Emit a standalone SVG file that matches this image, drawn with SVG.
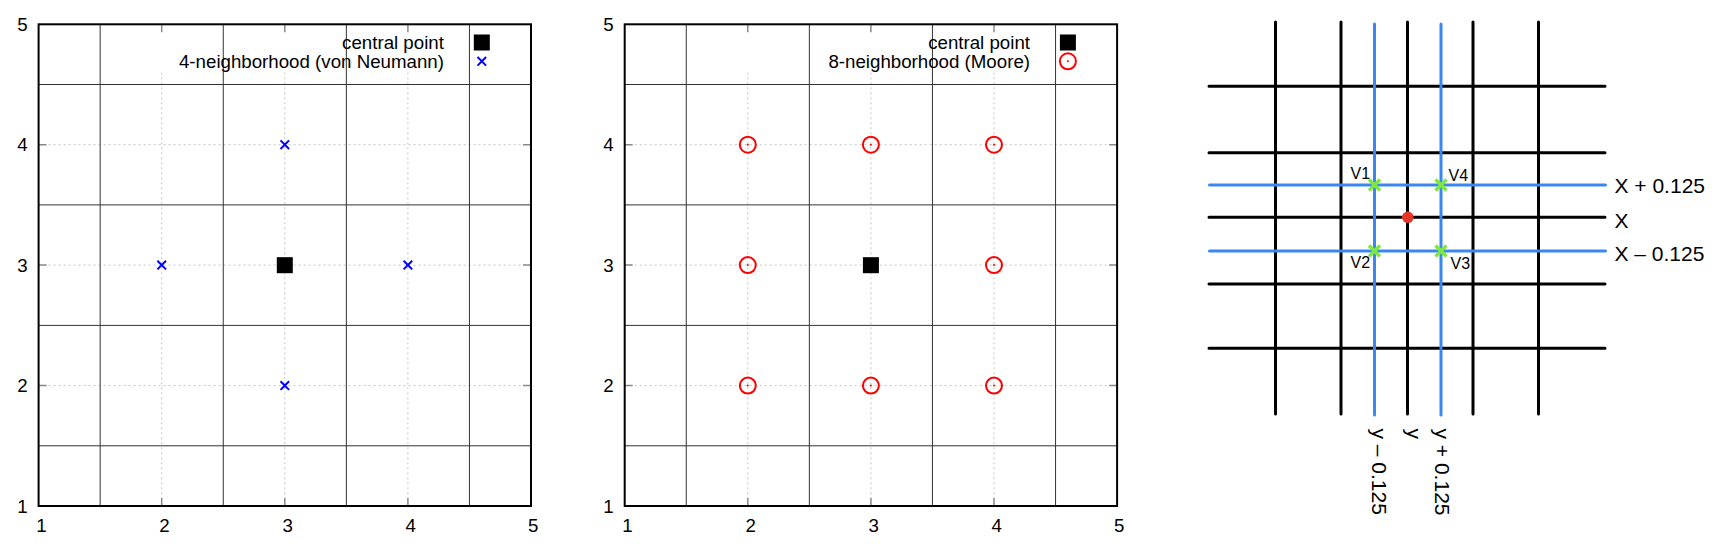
<svg xmlns="http://www.w3.org/2000/svg" xmlns:xlink="http://www.w3.org/1999/xlink" width="1730" height="549" viewBox="0 0 1730 549">
<style>
.frame{fill:none;stroke:#000;stroke-width:2}
.grid{stroke:#333;stroke-width:1;fill:none}
.dot{stroke:#c4c4c4;stroke-width:1;stroke-dasharray:2,3;fill:none}
.tick{stroke:#8a8a8a;stroke-width:1.5;fill:none}
.lbl{font-family:"Liberation Sans",Arial,Helvetica,sans-serif;font-size:18.7px;fill:#000}
.sm{font-family:"Liberation Sans",Arial,Helvetica,sans-serif;font-size:16px;fill:#000}
.big{font-family:"Liberation Sans",Arial,Helvetica,sans-serif;font-size:21px;fill:#000}
.blk{stroke:#000;stroke-width:3;stroke-linecap:round;fill:none}
.blu{stroke:#3b87f2;stroke-width:3;stroke-linecap:round;fill:none}
</style>
<defs>
<g id="bx"><path d="M-4.3,-4.3L4.3,4.3M-4.3,4.3L4.3,-4.3" stroke="#0000ff" stroke-width="2" fill="none"/></g>
<g id="rc"><circle r="8" fill="none" stroke="#ff0000" stroke-width="2"/><circle r="1" fill="#ff0000"/></g>
<g id="sq"><rect x="-8" y="-8" width="16" height="16" fill="#000"/></g>
<g id="gx"><path d="M-5.5,-5.5L5.5,5.5M-5.5,5.5L5.5,-5.5" stroke="#7fe840" stroke-width="3.5" fill="none"/></g>
<g id="axes">
<rect x="0" y="0" width="492.4" height="481.7" fill="#fff"/>
<path class="dot" d="M123.1,48V481.7M246.2,48V481.7M369.3,48V481.7M0,120.4H492.4M0,240.8H492.4M0,361.3H492.4"/>
<rect x="112" y="3" width="376" height="45" fill="#fff"/>
<path class="tick" d="M123.1,0v8M246.2,0v8M369.3,0v8M123.1,481.7v-8M246.2,481.7v-8M369.3,481.7v-8M0,120.4h8M0,240.8h8M0,361.3h8M492.4,120.4h-8M492.4,240.8h-8M492.4,361.3h-8"/>
<path class="grid" d="M61.55,0V481.7M184.65,0V481.7M307.75,0V481.7M430.85,0V481.7M0,60.2H492.4M0,180.6H492.4M0,301.1H492.4M0,421.5H492.4"/>
<rect class="frame" x="0" y="0" width="492.4" height="481.7"/>
<g class="lbl" text-anchor="end">
<text x="-11" y="6.6">5</text><text x="-11" y="127">4</text><text x="-11" y="247.4">3</text><text x="-11" y="367.9">2</text><text x="-11" y="488.3">1</text>
</g>
<g class="lbl" text-anchor="middle">
<text x="2.8" y="507.3">1</text><text x="125.9" y="507.3">2</text><text x="249" y="507.3">3</text><text x="372.1" y="507.3">4</text><text x="494.6" y="507.3">5</text>
</g>
</g>
</defs>

<rect width="1730" height="549" fill="#fff"/>

<g id="panel1" transform="translate(38.6,24.3)">
<use xlink:href="#axes"/>
<g class="lbl" text-anchor="end">
<text x="405.3" y="24.7">central point</text>
<text x="405.3" y="43.6">4-neighborhood (von Neumann)</text>
</g>
<use xlink:href="#sq" x="443.2" y="18.2"/>
<use xlink:href="#bx" x="443.2" y="37"/>
<use xlink:href="#sq" x="246.2" y="240.9"/>
<use xlink:href="#bx" x="246.2" y="120.4"/>
<use xlink:href="#bx" x="123.1" y="240.8"/>
<use xlink:href="#bx" x="369.3" y="240.8"/>
<use xlink:href="#bx" x="246.2" y="361.3"/>
</g>

<g id="panel2" transform="translate(624.7,24.3)">
<use xlink:href="#axes"/>
<g class="lbl" text-anchor="end">
<text x="405.3" y="24.7">central point</text>
<text x="405.3" y="43.6">8-neighborhood (Moore)</text>
</g>
<use xlink:href="#sq" x="443.2" y="18.2"/>
<use xlink:href="#rc" x="443.2" y="37"/>
<use xlink:href="#sq" x="246.2" y="240.9"/>
<use xlink:href="#rc" x="123.1" y="120.4"/>
<use xlink:href="#rc" x="246.2" y="120.4"/>
<use xlink:href="#rc" x="369.3" y="120.4"/>
<use xlink:href="#rc" x="123.1" y="240.8"/>
<use xlink:href="#rc" x="369.3" y="240.8"/>
<use xlink:href="#rc" x="123.1" y="361.3"/>
<use xlink:href="#rc" x="246.2" y="361.3"/>
<use xlink:href="#rc" x="369.3" y="361.3"/>
</g>

<g id="panel3">
<path class="blk" d="M1275.5,22V414M1341,22V414M1407.5,22V414M1473,22V414M1538.5,22V414M1209,86.3H1605M1209,152.7H1605M1209,217.3H1605M1209,284H1605M1209,348.3H1605"/>
<path class="blu" d="M1374.5,24V415M1441,24V415M1209.5,185H1605.5M1209.5,251H1605.5"/>
<use xlink:href="#gx" x="1374.5" y="185"/>
<use xlink:href="#gx" x="1441" y="185"/>
<use xlink:href="#gx" x="1374.5" y="251"/>
<use xlink:href="#gx" x="1441" y="251"/>
<circle cx="1407.8" cy="217.3" r="5.8" fill="#e53526"/>
<text class="sm" x="1350.5" y="178.5">V1</text>
<text class="sm" x="1448.5" y="180.5">V4</text>
<text class="sm" x="1350.5" y="267.5">V2</text>
<text class="sm" x="1450.5" y="268.8">V3</text>
<text class="big" x="1614.5" y="192.8">X + 0.125</text>
<text class="big" x="1614.5" y="227.7">X</text>
<text class="big" x="1614.5" y="261">X – 0.125</text>
<text class="big" transform="translate(1372,428.5) rotate(90)">y – 0.125</text>
<text class="big" transform="translate(1406.5,428.5) rotate(90)">y</text>
<text class="big" transform="translate(1434.5,428.5) rotate(90)">y + 0.125</text>
</g>
</svg>
